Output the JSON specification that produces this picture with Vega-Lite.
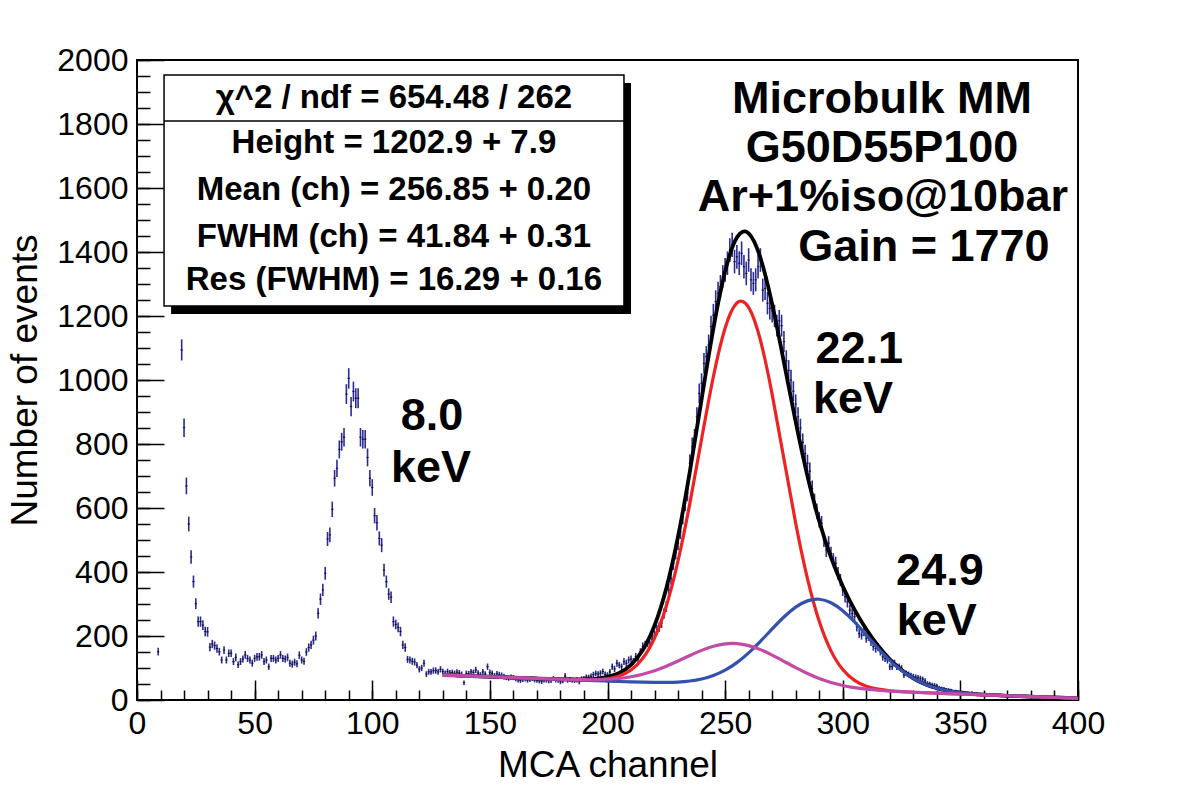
{
"$schema": "https://vega.github.io/schema/vega-lite/v6.json",
"autosize": {"type": "none"},
"padding": {"left": 137, "top": 60, "right": 104, "bottom": 100},
"width": 941,
"height": 640,
"background": "white",
"config": {
"view": {"stroke": "black", "strokeWidth": 2},
"font": "Liberation Sans",
"axis": {"labelFontSize": 32, "labelColor": "black", "labelOverlap": false, "labelFlush": false, "tickColor": "black", "tickWidth": 1.5, "domain": false, "grid": false, "titleFontSize": 37, "titleFontWeight": "normal", "titleColor": "black", "format": "d"}
},
"resolve": {"axis": {"x": "independent", "y": "independent"}},
"datasets": {
"hist": [
{"c":9,"n":151,"e":12},{"c":19,"n":1094,"e":33},{"c":20,"n":851,"e":29},{"c":21,"n":669,"e":26},{"c":22,"n":550,"e":23},{"c":23,"n":447,"e":21},{"c":24,"n":370,"e":19},{"c":25,"n":301,"e":17},{"c":26,"n":245,"e":16},{"c":27,"n":245,"e":16},{"c":28,"n":234,"e":15},{"c":29,"n":214,"e":15},{"c":30,"n":213,"e":15},{"c":31,"n":165,"e":13},{"c":32,"n":175,"e":13},{"c":33,"n":170,"e":13},{"c":34,"n":161,"e":13},{"c":35,"n":151,"e":12},{"c":36,"n":125,"e":11},{"c":37,"n":156,"e":12},{"c":38,"n":125,"e":11},{"c":39,"n":146,"e":12},{"c":40,"n":146,"e":12},{"c":41,"n":120,"e":11},{"c":42,"n":133,"e":12},{"c":43,"n":110,"e":10},{"c":44,"n":120,"e":11},{"c":45,"n":128,"e":11},{"c":46,"n":141,"e":12},{"c":47,"n":130,"e":11},{"c":48,"n":125,"e":11},{"c":49,"n":115,"e":11},{"c":50,"n":130,"e":11},{"c":51,"n":135,"e":12},{"c":52,"n":135,"e":12},{"c":53,"n":141,"e":12},{"c":54,"n":120,"e":11},{"c":55,"n":125,"e":11},{"c":56,"n":104,"e":10},{"c":57,"n":130,"e":11},{"c":58,"n":130,"e":11},{"c":59,"n":125,"e":11},{"c":60,"n":130,"e":11},{"c":61,"n":141,"e":12},{"c":62,"n":130,"e":11},{"c":63,"n":128,"e":11},{"c":64,"n":133,"e":12},{"c":65,"n":115,"e":11},{"c":66,"n":112,"e":11},{"c":67,"n":118,"e":11},{"c":68,"n":113,"e":11},{"c":69,"n":140,"e":12},{"c":70,"n":125,"e":11},{"c":71,"n":121,"e":11},{"c":72,"n":150,"e":12},{"c":73,"n":164,"e":13},{"c":74,"n":172,"e":13},{"c":75,"n":187,"e":14},{"c":76,"n":200,"e":14},{"c":77,"n":271,"e":16},{"c":78,"n":315,"e":18},{"c":79,"n":344,"e":19},{"c":80,"n":396,"e":20},{"c":81,"n":503,"e":22},{"c":82,"n":516,"e":23},{"c":83,"n":596,"e":24},{"c":84,"n":693,"e":26},{"c":85,"n":724,"e":27},{"c":86,"n":783,"e":28},{"c":87,"n":807,"e":28},{"c":88,"n":821,"e":29},{"c":89,"n":956,"e":31},{"c":90,"n":1005,"e":32},{"c":91,"n":917,"e":30},{"c":92,"n":964,"e":31},{"c":93,"n":943,"e":31},{"c":94,"n":943,"e":31},{"c":95,"n":821,"e":29},{"c":96,"n":815,"e":29},{"c":97,"n":815,"e":29},{"c":98,"n":758,"e":28},{"c":99,"n":693,"e":26},{"c":100,"n":664,"e":26},{"c":101,"n":576,"e":24},{"c":102,"n":554,"e":24},{"c":103,"n":505,"e":22},{"c":104,"n":484,"e":22},{"c":105,"n":406,"e":20},{"c":106,"n":370,"e":19},{"c":107,"n":331,"e":18},{"c":108,"n":321,"e":18},{"c":109,"n":245,"e":16},{"c":110,"n":236,"e":15},{"c":111,"n":227,"e":15},{"c":112,"n":214,"e":15},{"c":113,"n":172,"e":13},{"c":114,"n":164,"e":13},{"c":115,"n":127,"e":11},{"c":116,"n":125,"e":11},{"c":117,"n":121,"e":11},{"c":118,"n":119,"e":11},{"c":119,"n":109,"e":10},{"c":120,"n":96,"e":10},{"c":121,"n":100,"e":10},{"c":122,"n":115,"e":11},{"c":123,"n":81,"e":9},{"c":124,"n":88,"e":9},{"c":125,"n":88,"e":9},{"c":126,"n":92,"e":10},{"c":127,"n":92,"e":10},{"c":128,"n":88,"e":9},{"c":129,"n":96,"e":10},{"c":130,"n":89,"e":9},{"c":131,"n":83,"e":9},{"c":132,"n":89,"e":9},{"c":133,"n":85,"e":9},{"c":134,"n":86,"e":9},{"c":135,"n":83,"e":9},{"c":136,"n":87,"e":9},{"c":137,"n":85,"e":9},{"c":138,"n":80,"e":9},{"c":139,"n":54,"e":7},{"c":140,"n":83,"e":9},{"c":141,"n":82,"e":9},{"c":142,"n":88,"e":9},{"c":143,"n":86,"e":9},{"c":144,"n":94,"e":10},{"c":145,"n":84,"e":9},{"c":146,"n":78,"e":9},{"c":147,"n":88,"e":9},{"c":148,"n":81,"e":9},{"c":149,"n":104,"e":10},{"c":150,"n":86,"e":9},{"c":151,"n":83,"e":9},{"c":152,"n":75,"e":9},{"c":153,"n":82,"e":9},{"c":154,"n":79,"e":9},{"c":155,"n":77,"e":9},{"c":156,"n":73,"e":9},{"c":157,"n":70,"e":8},{"c":158,"n":68,"e":8},{"c":159,"n":72,"e":8},{"c":160,"n":70,"e":8},{"c":161,"n":66,"e":8},{"c":162,"n":63,"e":8},{"c":163,"n":61,"e":8},{"c":164,"n":64,"e":8},{"c":165,"n":66,"e":8},{"c":166,"n":62,"e":8},{"c":167,"n":64,"e":8},{"c":168,"n":67,"e":8},{"c":169,"n":63,"e":8},{"c":170,"n":62,"e":8},{"c":171,"n":60,"e":8},{"c":172,"n":58,"e":8},{"c":173,"n":63,"e":8},{"c":174,"n":62,"e":8},{"c":175,"n":60,"e":8},{"c":176,"n":61,"e":8},{"c":177,"n":67,"e":8},{"c":178,"n":63,"e":8},{"c":179,"n":62,"e":8},{"c":180,"n":57,"e":8},{"c":181,"n":60,"e":8},{"c":182,"n":75,"e":9},{"c":183,"n":62,"e":8},{"c":184,"n":64,"e":8},{"c":185,"n":62,"e":8},{"c":186,"n":61,"e":8},{"c":187,"n":63,"e":8},{"c":188,"n":57,"e":8},{"c":189,"n":66,"e":8},{"c":190,"n":67,"e":8},{"c":191,"n":72,"e":8},{"c":192,"n":71,"e":8},{"c":193,"n":74,"e":9},{"c":194,"n":79,"e":9},{"c":195,"n":83,"e":9},{"c":196,"n":81,"e":9},{"c":197,"n":84,"e":9},{"c":198,"n":89,"e":9},{"c":199,"n":80,"e":9},{"c":200,"n":78,"e":9},{"c":201,"n":88,"e":9},{"c":202,"n":104,"e":10},{"c":203,"n":97,"e":10},{"c":204,"n":115,"e":11},{"c":205,"n":109,"e":10},{"c":206,"n":104,"e":10},{"c":207,"n":120,"e":11},{"c":208,"n":115,"e":11},{"c":209,"n":125,"e":11},{"c":210,"n":128,"e":11},{"c":211,"n":120,"e":11},{"c":212,"n":135,"e":12},{"c":213,"n":130,"e":11},{"c":214,"n":150,"e":12},{"c":215,"n":167,"e":13},{"c":216,"n":172,"e":13},{"c":217,"n":178,"e":13},{"c":218,"n":172,"e":13},{"c":219,"n":190,"e":14},{"c":220,"n":203,"e":14},{"c":221,"n":219,"e":15},{"c":222,"n":228,"e":15},{"c":223,"n":240,"e":15},{"c":224,"n":270,"e":16},{"c":225,"n":292,"e":17},{"c":226,"n":344,"e":19},{"c":227,"n":380,"e":19},{"c":228,"n":427,"e":21},{"c":229,"n":460,"e":21},{"c":230,"n":490,"e":22},{"c":231,"n":526,"e":23},{"c":232,"n":573,"e":24},{"c":233,"n":615,"e":25},{"c":234,"n":646,"e":25},{"c":235,"n":740,"e":27},{"c":236,"n":792,"e":28},{"c":237,"n":818,"e":29},{"c":238,"n":885,"e":30},{"c":239,"n":958,"e":31},{"c":240,"n":990,"e":31},{"c":241,"n":1052,"e":32},{"c":242,"n":1073,"e":33},{"c":243,"n":1109,"e":33},{"c":244,"n":1167,"e":34},{"c":245,"n":1203,"e":35},{"c":246,"n":1245,"e":35},{"c":247,"n":1271,"e":36},{"c":248,"n":1292,"e":36},{"c":249,"n":1323,"e":36},{"c":250,"n":1344,"e":37},{"c":251,"n":1365,"e":37},{"c":252,"n":1406,"e":37},{"c":253,"n":1422,"e":38},{"c":254,"n":1370,"e":37},{"c":255,"n":1385,"e":37},{"c":256,"n":1365,"e":37},{"c":257,"n":1396,"e":37},{"c":258,"n":1354,"e":37},{"c":259,"n":1333,"e":37},{"c":260,"n":1375,"e":37},{"c":261,"n":1313,"e":36},{"c":262,"n":1302,"e":36},{"c":263,"n":1313,"e":36},{"c":264,"n":1354,"e":37},{"c":265,"n":1375,"e":37},{"c":266,"n":1281,"e":36},{"c":267,"n":1286,"e":36},{"c":268,"n":1240,"e":35},{"c":269,"n":1224,"e":35},{"c":270,"n":1215,"e":35},{"c":271,"n":1200,"e":35},{"c":272,"n":1170,"e":34},{"c":273,"n":1185,"e":34},{"c":274,"n":1170,"e":34},{"c":275,"n":1120,"e":33},{"c":276,"n":1060,"e":33},{"c":277,"n":1030,"e":32},{"c":278,"n":1000,"e":32},{"c":279,"n":965,"e":31},{"c":280,"n":925,"e":30},{"c":281,"n":885,"e":30},{"c":282,"n":850,"e":29},{"c":283,"n":805,"e":28},{"c":284,"n":770,"e":28},{"c":285,"n":740,"e":27},{"c":286,"n":715,"e":27},{"c":287,"n":660,"e":26},{"c":288,"n":620,"e":25},{"c":289,"n":590,"e":24},{"c":290,"n":563,"e":24},{"c":291,"n":552,"e":23},{"c":292,"n":500,"e":22},{"c":293,"n":469,"e":22},{"c":294,"n":490,"e":22},{"c":295,"n":458,"e":21},{"c":296,"n":438,"e":21},{"c":297,"n":427,"e":21},{"c":298,"n":396,"e":20},{"c":299,"n":375,"e":19},{"c":300,"n":344,"e":19},{"c":301,"n":323,"e":18},{"c":302,"n":307,"e":18},{"c":303,"n":281,"e":17},{"c":304,"n":270,"e":16},{"c":305,"n":260,"e":16},{"c":306,"n":229,"e":15},{"c":307,"n":208,"e":14},{"c":308,"n":203,"e":14},{"c":309,"n":214,"e":15},{"c":310,"n":193,"e":14},{"c":311,"n":198,"e":14},{"c":312,"n":182,"e":13},{"c":313,"n":167,"e":13},{"c":314,"n":161,"e":13},{"c":315,"n":165,"e":13},{"c":316,"n":151,"e":12},{"c":317,"n":135,"e":12},{"c":318,"n":130,"e":11},{"c":319,"n":125,"e":11},{"c":320,"n":104,"e":10},{"c":321,"n":104,"e":10},{"c":322,"n":115,"e":11},{"c":323,"n":104,"e":10},{"c":324,"n":104,"e":10},{"c":325,"n":99,"e":10},{"c":326,"n":78,"e":9},{"c":327,"n":83,"e":9},{"c":328,"n":80,"e":9},{"c":329,"n":76,"e":9},{"c":330,"n":73,"e":9},{"c":331,"n":72,"e":8},{"c":332,"n":70,"e":8},{"c":333,"n":68,"e":8},{"c":334,"n":65,"e":8},{"c":335,"n":60,"e":8},{"c":336,"n":52,"e":7},{"c":337,"n":50,"e":7},{"c":338,"n":47,"e":7},{"c":339,"n":46,"e":7},{"c":340,"n":44,"e":7},{"c":341,"n":38,"e":6},{"c":342,"n":36,"e":6},{"c":343,"n":35,"e":6},{"c":344,"n":32,"e":6},{"c":345,"n":31,"e":6},{"c":346,"n":30,"e":5},{"c":347,"n":26,"e":5},{"c":348,"n":27,"e":5},{"c":349,"n":24,"e":5},{"c":350,"n":23,"e":5},{"c":351,"n":24,"e":5},{"c":352,"n":22,"e":5},{"c":353,"n":21,"e":5},{"c":354,"n":20,"e":4},{"c":355,"n":22,"e":5},{"c":356,"n":19,"e":4},{"c":357,"n":20,"e":4},{"c":358,"n":19,"e":4},{"c":359,"n":17,"e":4},{"c":360,"n":16,"e":4},{"c":361,"n":18,"e":4},{"c":362,"n":15,"e":4},{"c":363,"n":16,"e":4},{"c":364,"n":16,"e":4},{"c":365,"n":14,"e":4},{"c":366,"n":15,"e":4},{"c":367,"n":13,"e":4},{"c":368,"n":14,"e":4},{"c":369,"n":12,"e":3},{"c":370,"n":12,"e":3},{"c":371,"n":13,"e":4},{"c":372,"n":11,"e":3},{"c":373,"n":12,"e":3},{"c":374,"n":10,"e":3},{"c":375,"n":12,"e":3},{"c":376,"n":11,"e":3},{"c":377,"n":10,"e":3},{"c":378,"n":11,"e":3},{"c":379,"n":9,"e":3},{"c":380,"n":10,"e":3},{"c":381,"n":9,"e":3},{"c":382,"n":8,"e":3},{"c":383,"n":10,"e":3},{"c":384,"n":8,"e":3},{"c":385,"n":9,"e":3},{"c":386,"n":8,"e":3},{"c":387,"n":7,"e":3},{"c":388,"n":8,"e":3},{"c":389,"n":7,"e":3},{"c":390,"n":6,"e":2},{"c":391,"n":8,"e":3},{"c":392,"n":7,"e":3},{"c":393,"n":6,"e":2},{"c":394,"n":7,"e":3},{"c":395,"n":5,"e":2},{"c":396,"n":6,"e":2},{"c":397,"n":5,"e":2},{"c":398,"n":5,"e":2},{"c":399,"n":6,"e":2}
],
"fit": [
{"x":130,"tot":78,"red":78,"blue":78,"mag":78},{"x":135,"tot":76.7,"red":76.7,"blue":76.7,"mag":76.7},{"x":140,"tot":75.3,"red":75.3,"blue":75.3,"mag":75.3},{"x":145,"tot":74.0,"red":74.0,"blue":74.0,"mag":74.0},{"x":150,"tot":72.6,"red":72.6,"blue":72.6,"mag":72.6},{"x":155,"tot":71.3,"red":71.3,"blue":71.3,"mag":71.3},{"x":160,"tot":69.9,"red":69.9,"blue":69.9,"mag":69.9},{"x":165,"tot":68.6,"red":68.6,"blue":68.6,"mag":68.6},{"x":170,"tot":67.3,"red":67.2,"blue":67.2,"mag":67.3},{"x":175,"tot":66.0,"red":65.9,"blue":65.9,"mag":66.0},{"x":180,"tot":65.0,"red":64.6,"blue":64.5,"mag":64.9},{"x":185,"tot":64.3,"red":63.5,"blue":63.2,"mag":63.9},{"x":190,"tot":64.4,"red":62.8,"blue":61.8,"mag":63.4},{"x":195,"tot":66.3,"red":63.3,"blue":60.5,"mag":63.5},{"x":200,"tot":72.0,"red":66.3,"blue":59.1,"mag":64.8},{"x":205,"tot":84.7,"red":74.9,"blue":57.8,"mag":67.6},{"x":210,"tot":110.1,"red":93.6,"blue":56.6,"mag":72.7},{"x":215,"tot":156.2,"red":130.3,"blue":55.6,"mag":80.6},{"x":220,"tot":232.8,"red":193.8,"blue":54.9,"mag":91.5},{"x":225,"tot":349.4,"red":293.8,"blue":54.9,"mag":105.6},{"x":230,"tot":511.0,"red":435.2,"blue":56.0,"mag":121.8},{"x":235,"tot":713.6,"red":614.6,"blue":59.3,"mag":139.1},{"x":240,"tot":939.9,"red":815.8,"blue":65.6,"mag":155.1},{"x":245,"tot":1160.6,"red":1010.2,"blue":76.5,"mag":167.9},{"x":250,"tot":1339.7,"red":1162.4,"blue":93.2,"mag":175.3},{"x":255,"tot":1445.0,"red":1240.7,"blue":116.7,"mag":176.2},{"x":260,"tot":1458.2,"red":1227.0,"blue":147.1,"mag":169.9},{"x":265,"tot":1381.9,"red":1124.5,"blue":183.2,"mag":157.4},{"x":270,"tot":1236.9,"red":955.0,"blue":222.0,"mag":140.3},{"x":275,"tot":1055.3,"red":752.9,"blue":259.4,"mag":120.8},{"x":280,"tot":868.8,"red":552.5,"blue":290.2,"mag":101.1},{"x":285,"tot":699.6,"red":379.3,"blue":309.8,"mag":82.9},{"x":290,"tot":558.4,"red":245.9,"blue":314.8,"mag":67.3},{"x":295,"tot":445.5,"red":153.6,"blue":304.0,"mag":54.9},{"x":300,"tot":355.6,"red":95.2,"blue":279.1,"mag":45.5},{"x":305,"tot":282.4,"red":61.4,"blue":243.9,"mag":38.7},{"x":310,"tot":221.3,"red":43.1,"blue":203.1,"mag":33.9},{"x":315,"tot":169.8,"red":33.8,"blue":161.8,"mag":30.4},{"x":320,"tot":127.4,"red":28.9,"blue":124.0,"mag":27.9},{"x":325,"tot":93.7,"red":26.2,"blue":92.3,"mag":25.9},{"x":330,"tot":67.9,"red":24.3,"blue":67.4,"mag":24.3},{"x":335,"tot":49.3,"red":22.7,"blue":49.3,"mag":22.7},{"x":340,"tot":36.7,"red":21.3,"blue":36.7,"mag":21.3},{"x":345,"tot":28.5,"red":20.0,"blue":28.5,"mag":20.0},{"x":350,"tot":23.0,"red":18.6,"blue":23.0,"mag":18.6},{"x":355,"tot":19.4,"red":17.3,"blue":19.4,"mag":17.3},{"x":360,"tot":16.9,"red":15.9,"blue":16.9,"mag":15.9},{"x":365,"tot":15.0,"red":14.6,"blue":15.0,"mag":14.6},{"x":370,"tot":13.2,"red":13.2,"blue":13.2,"mag":13.2},{"x":375,"tot":11.9,"red":11.9,"blue":11.9,"mag":11.9},{"x":380,"tot":10.5,"red":10.5,"blue":10.5,"mag":10.5},{"x":385,"tot":9.2,"red":9.2,"blue":9.2,"mag":9.2},{"x":390,"tot":7.8,"red":7.8,"blue":7.8,"mag":7.8},{"x":395,"tot":6.5,"red":6.5,"blue":6.5,"mag":6.5},{"x":400,"tot":5.1,"red":5.1,"blue":5.1,"mag":5.1}
],
"boxtext": [
{"x":109.2,"y":1881,"t":"χ^2 / ndf = 654.48 / 262"},
{"x":109.2,"y":1741,"t":"Height = 1202.9 + 7.9"},
{"x":109.2,"y":1594,"t":"Mean (ch) = 256.85 + 0.20"},
{"x":109.2,"y":1447,"t":"FWHM (ch) = 41.84 + 0.31"},
{"x":109.2,"y":1312,"t":"Res (FWHM) = 16.29 + 0.16"}
],
"labels": [
{"x":316.7,"y":1878,"t":"Microbulk MM"},
{"x":316.7,"y":1725,"t":"G50D55P100"},
{"x":317.1,"y":1572,"t":"Ar+1%iso@10bar"},
{"x":334.5,"y":1416,"t":"Gain = 1770"},
{"x":125.4,"y":886,"t":"8.0"},
{"x":125.0,"y":726,"t":"keV"},
{"x":307.0,"y":1096,"t":"22.1"},
{"x":304.4,"y":942,"t":"keV"},
{"x":341.3,"y":402,"t":"24.9"},
{"x":340.0,"y":248,"t":"keV"}
]
},
"layer": [
{
"data": {"values": [{"x1": 14.5, "x2": 210, "y1": 1206, "y2": 1928}]},
"mark": {"type": "rect", "color": "black"},
"encoding": {
"x": {"field": "x1", "type": "quantitative", "scale": {"domain": [0, 400], "nice": false, "zero": false},
"axis": {"title": "MCA channel", "orient": "bottom", "values": [0,50,100,150,200,250,300,350,400], "offset": -20, "tickSize": 20, "labelPadding": 8, "titlePadding": 8}},
"x2": {"field": "x2"},
"y": {"field": "y1", "type": "quantitative", "scale": {"domain": [0, 2000], "nice": false},
"axis": {"title": "Number of events", "orient": "left", "values": [0,200,400,600,800,1000,1200,1400,1600,1800,2000], "offset": -27, "tickSize": 27, "labelPadding": 9, "titlePadding": 12}},
"y2": {"field": "y2"}
}
},
{
"data": {"values": [{"x1": 11.5, "x2": 207, "y1": 1231, "y2": 1953}]},
"mark": {"type": "rect", "fill": "white", "stroke": "black", "strokeWidth": 1.5},
"encoding": {
"x": {"field": "x1", "type": "quantitative",
"axis": {"title": null, "orient": "bottom", "labels": false, "values": [0,10,20,30,40,50,60,70,80,90,100,110,120,130,140,150,160,170,180,190,200,210,220,230,240,250,260,270,280,290,300,310,320,330,340,350,360,370,380,390,400], "offset": -10, "tickSize": 10}},
"x2": {"field": "x2"},
"y": {"field": "y1", "type": "quantitative",
"axis": {"title": null, "orient": "left", "labels": false, "values": [0,50,100,150,200,250,300,350,400,450,500,550,600,650,700,750,800,850,900,950,1000,1050,1100,1150,1200,1250,1300,1350,1400,1450,1500,1550,1600,1650,1700,1750,1800,1850,1900,1950,2000], "offset": -13, "tickSize": 13}},
"y2": {"field": "y2"}
}
},
{
"data": {"values": [{"x1": 11.5, "x2": 207, "y": 1809}]},
"mark": {"type": "rule", "color": "black", "strokeWidth": 1.5},
"encoding": {
"x": {"field": "x1", "type": "quantitative", "axis": null}, "x2": {"field": "x2"},
"y": {"field": "y", "type": "quantitative", "axis": null}
}
},
{
"data": {"name": "boxtext"},
"mark": {"type": "text", "font": "Liberation Sans", "fontWeight": "bold", "fontSize": 33, "align": "center", "baseline": "middle", "color": "black"},
"encoding": {
"x": {"field": "x", "type": "quantitative", "axis": null},
"y": {"field": "y", "type": "quantitative", "axis": null},
"text": {"field": "t"}
}
},
{
"data": {"name": "hist"},
"mark": {"type": "errorbar", "color": "#2b2b96", "thickness": 1.6},
"encoding": {
"x": {"field": "c", "type": "quantitative", "axis": null},
"y": {"field": "n", "type": "quantitative", "axis": null},
"yError": {"field": "e"}
}
},
{
"data": {"name": "hist"},
"mark": {"type": "tick", "orient": "horizontal", "size": 2.4, "thickness": 1.2, "color": "black"},
"encoding": {
"x": {"field": "c", "type": "quantitative", "axis": null},
"y": {"field": "n", "type": "quantitative", "axis": null}
}
},
{
"data": {"name": "fit"},
"mark": {"type": "line", "color": "black", "strokeWidth": 3.8, "interpolate": "natural"},
"encoding": {"x": {"field": "x", "type": "quantitative", "axis": null}, "y": {"field": "tot", "type": "quantitative", "axis": null}}
},
{
"data": {"name": "fit"},
"mark": {"type": "line", "color": "#ee2222", "strokeWidth": 3.2, "interpolate": "natural"},
"encoding": {"x": {"field": "x", "type": "quantitative", "axis": null}, "y": {"field": "red", "type": "quantitative", "axis": null}}
},
{
"data": {"name": "fit"},
"mark": {"type": "line", "color": "#3451ad", "strokeWidth": 3.2, "interpolate": "natural"},
"encoding": {"x": {"field": "x", "type": "quantitative", "axis": null}, "y": {"field": "blue", "type": "quantitative", "axis": null}}
},
{
"data": {"name": "fit"},
"mark": {"type": "line", "color": "#c24aa8", "strokeWidth": 3.2, "interpolate": "natural"},
"encoding": {"x": {"field": "x", "type": "quantitative", "axis": null}, "y": {"field": "mag", "type": "quantitative", "axis": null}}
},
{
"data": {"name": "labels"},
"mark": {"type": "text", "font": "Liberation Sans", "fontWeight": "bold", "fontSize": 45, "align": "center", "baseline": "middle", "color": "black"},
"encoding": {
"x": {"field": "x", "type": "quantitative", "axis": null},
"y": {"field": "y", "type": "quantitative", "axis": null},
"text": {"field": "t"}
}
}
]
}
